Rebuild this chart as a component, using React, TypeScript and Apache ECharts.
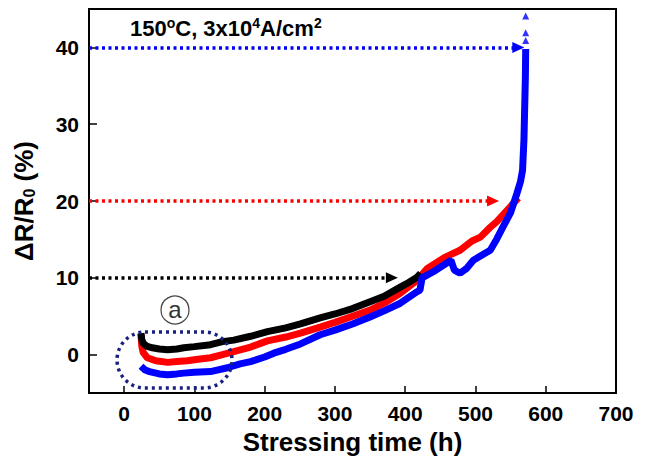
import React, { useEffect, useRef } from "react";
import * as echarts from "echarts";

const X_TICKS = [0, 100, 200, 300, 400, 500, 600, 700];
const Y_TICKS = [0, 10, 20, 30, 40];

const BLACK: [number, number][] = [
  [24, 2.8], [25, 2.0], [27, 1.5], [32, 1.1], [40, 0.9], [50, 0.75], [62, 0.65], [75, 0.75],
  [85, 0.9], [100, 1.05], [123, 1.3], [140, 1.7], [156, 1.9], [180, 2.4], [204, 3.0], [230, 3.5],
  [251, 4.0], [279, 4.8], [300, 5.3], [325, 6.0], [350, 6.9], [370, 7.6], [393, 8.8], [405, 9.4],
  [417, 10.1], [422, 10.6],
];

const RED: [number, number][] = [
  [24, 2.7], [25, 1.2], [27, 0.3], [33, -0.4], [45, -0.8], [62, -1.0], [75, -0.9], [90, -0.8],
  [105, -0.6], [123, -0.4], [140, 0.0], [156, 0.4], [180, 1.0], [204, 1.8], [230, 2.3], [251, 2.8],
  [279, 3.6], [300, 4.2], [325, 5.0], [350, 5.8], [370, 6.7], [393, 8.0], [417, 9.7], [431, 11.2],
  [455, 12.6], [478, 13.6], [495, 14.8], [507, 15.3], [520, 16.5], [530, 17.3], [545, 18.8], [561, 20.4],
];

const BLUE: [number, number][] = [
  [24, -1.5], [30, -2.0], [36, -2.2], [50, -2.5], [62, -2.6], [75, -2.5], [85, -2.4], [100, -2.3],
  [123, -2.2], [147, -1.7], [165, -1.2], [180, -0.9], [200, -0.3], [213, 0.2], [230, 0.7], [251, 1.4],
  [279, 2.6], [300, 3.2], [325, 4.0], [350, 4.9], [370, 5.7], [393, 6.7], [417, 8.2], [421, 8.4],
  [424, 10.0], [440, 10.8], [457, 11.8], [465, 12.3], [470, 11.0], [478, 10.6], [487, 11.2], [497, 12.3],
  [510, 13.0], [521, 13.6], [530, 15.0], [539, 16.6], [550, 18.5], [559, 21.0], [564, 22.5], [567, 24],
  [569, 28], [570, 32], [571, 36], [571.5, 39.8],
];

const BLUE_SPARSE: [number, number][] = [[571.5, 40.9], [571.5, 41.9], [571.5, 44.1]];

const ARROW_LEVELS = [10, 20, 40];
const ARROW_ENDS = [381, 525, 561];
const ARROW_COLORS = ["#000000", "#ff0000", "#0000ff"];

const FONT = "Liberation Sans, Arial, Helvetica, sans-serif";

function arrowLine(i: number) {
  return {
    symbol: ["none", "triangle"],
    symbolSize: [11, 12],
    silent: true,
    label: { show: false },
    emphasis: { disabled: true },
    lineStyle: { type: [3, 3.5], width: 3.5, color: ARROW_COLORS[i], opacity: 1 },
    itemStyle: { color: ARROW_COLORS[i] },
    data: [[{ coord: [-50, ARROW_LEVELS[i]] }, { coord: [ARROW_ENDS[i], ARROW_LEVELS[i]] }]],
  };
}

export default function App() {
  const ref = useRef<HTMLDivElement>(null);
  useEffect(() => {
    if (!ref.current) return;
    const chart = echarts.init(ref.current, undefined, { renderer: "svg" });
    const option = {
      animation: false,
      backgroundColor: "#ffffff",
      title: {
        left: 125,
        top: 11,
        text: "{a|150}{s|o}{a|C, 3x10}{s|4}{a|A/cm}{s|2}",
        textStyle: {
          rich: {
            a: { fontFamily: FONT, fontSize: 22, fontWeight: "bold", color: "#000", lineHeight: 24 },
            s: { fontFamily: FONT, fontSize: 14, fontWeight: "bold", color: "#000", verticalAlign: "top", lineHeight: 14 },
          },
        },
      },
      grid: { left: 89, right: 29, top: 9, bottom: 66, show: true, borderColor: "#000", borderWidth: 2 },
      xAxis: {
        type: "value",
        min: -50,
        max: 700,
        axisLine: { show: true, onZero: false, lineStyle: { color: "#000", width: 2 } },
        axisTick: { show: true, inside: true, length: 7, customValues: X_TICKS, lineStyle: { color: "#000", width: 1.5 } },
        axisLabel: { customValues: X_TICKS, fontFamily: FONT, fontSize: 21, fontWeight: "bold", color: "#000", margin: 10 },
        splitLine: { show: false },
        name: "Stressing time (h)",
        nameLocation: "middle",
        nameGap: 30,
        nameTextStyle: { fontFamily: FONT, fontSize: 26, fontWeight: "bold", color: "#000" },
      },
      yAxis: {
        type: "value",
        min: -5,
        max: 45,
        axisLine: { show: true, onZero: false, lineStyle: { color: "#000", width: 2 } },
        axisTick: { show: true, inside: true, length: 8, customValues: Y_TICKS, lineStyle: { color: "#000", width: 1.5 } },
        axisLabel: { customValues: Y_TICKS, fontFamily: FONT, fontSize: 21, fontWeight: "bold", color: "#000", margin: 10 },
        splitLine: { show: false },
        name: "{a|ΔR/R}{b|0}{a| (%)}",
        nameLocation: "middle",
        nameGap: 52,
        nameTextStyle: {
          fontFamily: FONT,
          fontSize: 26,
          fontWeight: "bold",
          color: "#000",
          rich: {
            a: { fontFamily: FONT, fontSize: 26, fontWeight: "bold", color: "#000" },
            b: { fontFamily: FONT, fontSize: 16, fontWeight: "bold", color: "#000", verticalAlign: "bottom", padding: [8, 0, 0, 0] },
          },
        },
      },
      series: [
        {
          type: "line",
          data: RED,
          showSymbol: false,
          lineStyle: { color: "#ff0000", width: 7 },
          itemStyle: { color: "#ff0000" },
          z: 2,
          markLine: arrowLine(1),
        },
        {
          type: "line",
          data: BLACK,
          showSymbol: false,
          lineStyle: { color: "#000000", width: 7 },
          itemStyle: { color: "#000000" },
          z: 3,
          markLine: arrowLine(0),
        },
        {
          type: "line",
          data: BLUE,
          showSymbol: false,
          lineStyle: { color: "#0000ff", width: 7 },
          itemStyle: { color: "#0000ff" },
          z: 4,
          markLine: arrowLine(2),
        },
        {
          type: "scatter",
          data: BLUE_SPARSE,
          symbol: "triangle",
          symbolSize: 7,
          itemStyle: { color: "#0000ff" },
          z: 4,
        },
      ],
      graphic: [
        {
          type: "rect",
          shape: { x: 117, y: 332, width: 115, height: 56, r: 28 },
          style: { fill: "none", stroke: "#17217f", lineWidth: 3.5, lineDash: [3, 4] },
          z: 10,
        },
        {
          type: "circle",
          shape: { cx: 175, cy: 310, r: 14 },
          style: { fill: "#fff", stroke: "#444", lineWidth: 1.2 },
          z: 10,
        },
        {
          type: "text",
          x: 175,
          y: 309,
          style: { text: "a", fontFamily: FONT, fontSize: 24, fill: "#333", align: "center", verticalAlign: "middle" },
          z: 11,
        },
      ],
    };
    chart.setOption(option as any);
    return () => chart.dispose();
  }, []);
  return <div ref={ref} style={{ position: "fixed", left: 0, top: 0, width: 645, height: 460 }} />;
}
